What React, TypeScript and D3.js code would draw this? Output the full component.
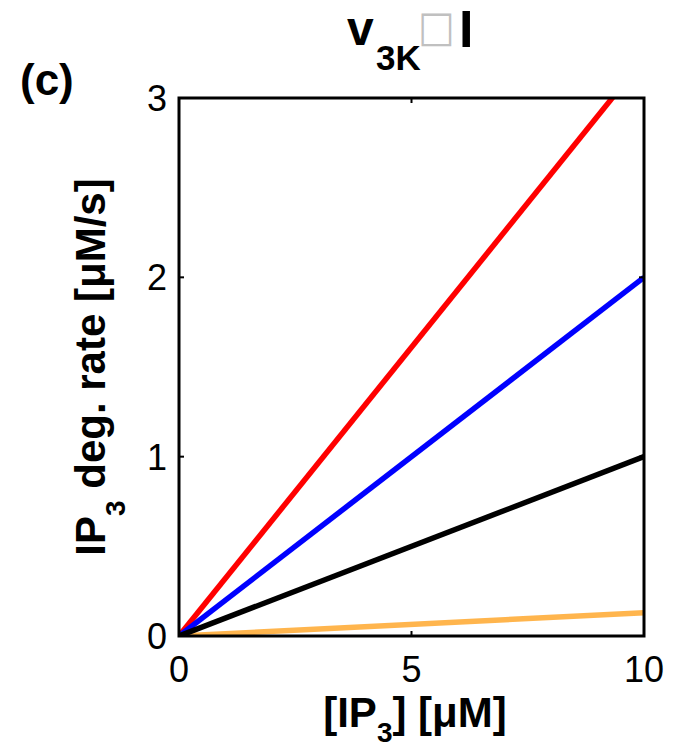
import React from "react";
import * as d3 from "d3";

// Degradation rate lines, each linear in [IP3]: values at the two ends of the x range
const xEnds = [0, 10];
const redRate = [0, 3.22];
const blueRate = [0, 2.0];
const blackRate = [0, 1.0];
const orangeRate = [0, 0.13];

const xTicks = [0, 5, 10];
const yTicks = [0, 1, 2, 3];

const W = 685;
const H = 750;
const left = 179;
const right = 644;
const top = 98;
const bottom = 636;

export default function App() {
  const x = d3.scaleLinear().domain([0, 10]).range([left, right]);
  const y = d3.scaleLinear().domain([0, 3]).range([bottom, top]);
  const line = d3
    .line<[number, number]>()
    .x((d) => x(d[0]))
    .y((d) => y(d[1]));

  const series = [
    { vals: orangeRate, color: "#ffad3a", opacity: 0.9 },
    { vals: redRate, color: "#ff0000", opacity: 1 },
    { vals: blueRate, color: "#0000ff", opacity: 1 },
    { vals: blackRate, color: "#000000", opacity: 1 },
  ];

  const font = "'Liberation Sans', Arial, sans-serif";

  return (
    <svg
      width={W}
      height={H}
      style={{ position: "absolute", left: 0, top: 0, background: "#fff" }}
      fontFamily={font}
    >
      <defs>
        <clipPath id="plotClip">
          <rect x={left} y={top} width={right - left} height={bottom - top} />
        </clipPath>
      </defs>

      {/* title */}
      <text x={347} y={45} fontSize={48} fontWeight="bold">v</text>
      <text x={376} y={70} fontSize={35} fontWeight="bold">3K</text>
      <text
        x={418}
        y={45}
        fontSize={39}
        fill="#c0c0c0"
        fontFamily="'DejaVu Sans', sans-serif"
        transform="translate(0,-4) scale(1,1.1) translate(0,0)"
        style={{ transformOrigin: "437px 45px" }}
      >
        □
      </text>
      <text x={459} y={47} fontSize={52} fontWeight="bold">I</text>

      {/* panel label */}
      <text x={20} y={95} fontSize={44} fontWeight="bold">(c)</text>

      {/* data lines */}
      <g clipPath="url(#plotClip)">
        {series.map((s, i) => (
          <path
            key={i}
            d={line(xEnds.map((xv, j) => [xv, s.vals[j]] as [number, number])) || ""}
            fill="none"
            stroke={s.color}
            strokeOpacity={s.opacity}
            strokeWidth={5.5}
          />
        ))}
      </g>

      {/* axes box */}
      <rect
        x={left}
        y={top}
        width={right - left}
        height={bottom - top}
        fill="none"
        stroke="#000"
        strokeWidth={3}
      />

      {/* ticks */}
      {xTicks.map((t) => (
        <g key={"xt" + t}>
          <line x1={x(t)} x2={x(t)} y1={bottom} y2={bottom - 5} stroke="#000" strokeWidth={2} />
          <line x1={x(t)} x2={x(t)} y1={top} y2={top + 5} stroke="#000" strokeWidth={2} />
          <text x={x(t)} y={682} fontSize={36} textAnchor="middle">
            {t}
          </text>
        </g>
      ))}
      {yTicks.map((t) => (
        <g key={"yt" + t}>
          <line x1={left} x2={left + 5} y1={y(t)} y2={y(t)} stroke="#000" strokeWidth={2} />
          <line x1={right} x2={right - 5} y1={y(t)} y2={y(t)} stroke="#000" strokeWidth={2} />
          <text x={167} y={y(t)} dy="0.36em" fontSize={36} textAnchor="end">
            {t}
          </text>
        </g>
      ))}

      {/* x axis label */}
      <text x={415} y={727} fontSize={42} fontWeight="bold" textAnchor="middle">
        [IP
        <tspan fontSize={28} dy={15}>3</tspan>
        <tspan dy={-15}>] [μM]</tspan>
      </text>

      {/* y axis label */}
      <text
        transform="translate(105,367) rotate(-90)"
        fontSize={42}
        fontWeight="bold"
        textAnchor="middle"
      >
        IP
        <tspan fontSize={28} dy={20}>3</tspan>
        <tspan dy={-20}> deg. rate [μM/s]</tspan>
      </text>
    </svg>
  );
}
